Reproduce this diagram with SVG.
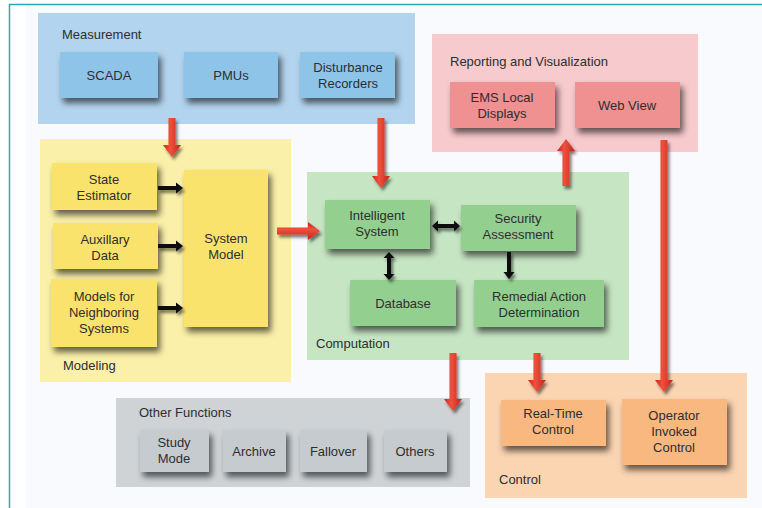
<svg xmlns="http://www.w3.org/2000/svg" width="762" height="508" viewBox="0 0 762 508">
<defs>
<style>
text{font-family:"Liberation Sans",Arial,sans-serif;font-size:13px;fill:#2e2e2e}
.c{text-anchor:middle}
.box{filter:url(#sh)}
.blue{fill:#8fc4e9}
.pink{fill:#ef9091}
.yel{fill:#f9e36c}
.grn{fill:#93cf8e}
.gry{fill:#c6cbcf}
.org{fill:#f8b87f}
.red{fill:url(#rg);filter:url(#ash)}
.redh{fill:url(#rgh);filter:url(#ash)}
.blk{fill:#111;filter:url(#ash)}
</style>
<filter id="sh" x="-20%" y="-20%" width="150%" height="160%">
<feDropShadow dx="3" dy="5" stdDeviation="3" flood-color="#000" flood-opacity="0.6"/>
</filter>
<filter id="ash" x="-50%" y="-50%" width="200%" height="200%">
<feDropShadow dx="2" dy="3" stdDeviation="1.8" flood-color="#000" flood-opacity="0.5"/>
</filter>
<linearGradient id="rg" x1="0" y1="0" x2="1" y2="0">
<stop offset="0" stop-color="#c8261a"/>
<stop offset="0.4" stop-color="#f0513c"/>
<stop offset="1" stop-color="#c02418"/>
</linearGradient>
<linearGradient id="rgh" x1="0" y1="0" x2="0" y2="1">
<stop offset="0" stop-color="#c8261a"/>
<stop offset="0.4" stop-color="#f0513c"/>
<stop offset="1" stop-color="#c02418"/>
</linearGradient>
</defs>

<rect x="0" y="0" width="762" height="508" fill="#ffffff"/>
<rect x="26" y="5" width="736" height="503" fill="#f9fafd"/>
<line x1="9.5" y1="4" x2="9.5" y2="508" stroke="#2aa7b4" stroke-width="1.5"/>
<line x1="9" y1="4.5" x2="762" y2="4.5" stroke="#2aa7b4" stroke-width="1.5"/>

<!-- panels -->
<g id="measurement-panel">
<rect x="38" y="13" width="377" height="111" fill="#b3d4ee"/>
<text x="62" y="39">Measurement</text>
</g>
<g id="reporting-panel">
<rect x="432" y="34" width="266" height="118" fill="#f7cacd"/>
<text x="450" y="66">Reporting and Visualization</text>
</g>
<g id="modeling-panel">
<rect x="40" y="139" width="251" height="243" fill="#fbf0a9"/>
<text x="63" y="370">Modeling</text>
</g>
<g id="computation-panel">
<rect x="307" y="172" width="322" height="188" fill="#c6e5c3"/>
<text x="316" y="348">Computation</text>
</g>
<g id="other-panel">
<rect x="116" y="398" width="354" height="89" fill="#cfd3d6"/>
<text x="139" y="417">Other Functions</text>
</g>
<g id="control-panel">
<rect x="485" y="373" width="262" height="125" fill="#fbd4b1"/>
<text x="499" y="484">Control</text>
</g>

<!-- nodes -->
<g id="scada"><rect class="box blue" x="60" y="52" width="98" height="46"/><text class="c" x="109" y="80">SCADA</text></g>
<g id="pmus"><rect class="box blue" x="184" y="52" width="94" height="46"/><text class="c" x="231" y="80">PMUs</text></g>
<g id="disturbance"><rect class="box blue" x="300" y="52" width="95" height="46"/><text class="c" x="348" y="72">Disturbance</text><text class="c" x="348" y="88">Recorders</text></g>

<g id="ems"><rect class="box pink" x="450" y="82" width="105" height="46"/><text class="c" x="502" y="102">EMS Local</text><text class="c" x="502" y="118">Displays</text></g>
<g id="webview"><rect class="box pink" x="575" y="82" width="105" height="46"/><text class="c" x="627" y="110">Web View</text></g>

<g id="state"><rect class="box yel" x="52" y="163" width="105" height="47"/><text class="c" x="104" y="184">State</text><text class="c" x="104" y="200">Estimator</text></g>
<g id="aux"><rect class="box yel" x="53" y="223" width="105" height="46"/><text class="c" x="105" y="244">Auxillary</text><text class="c" x="105" y="260">Data</text></g>
<g id="models"><rect class="box yel" x="51" y="279" width="106" height="68"/><text class="c" x="104" y="301">Models for</text><text class="c" x="104" y="317">Neighboring</text><text class="c" x="104" y="333">Systems</text></g>
<g id="sysmodel"><rect class="box yel" x="184" y="170" width="84" height="157"/><text class="c" x="226" y="243">System</text><text class="c" x="226" y="259">Model</text></g>

<g id="intelligent"><rect class="box grn" x="325" y="200" width="105" height="49"/><text class="c" x="377" y="220">Intelligent</text><text class="c" x="377" y="236">System</text></g>
<g id="security"><rect class="box grn" x="461" y="205" width="115" height="46"/><text class="c" x="518" y="223">Security</text><text class="c" x="518" y="239">Assessment</text></g>
<g id="database"><rect class="box grn" x="350" y="280" width="106" height="46"/><text class="c" x="403" y="308">Database</text></g>
<g id="remedial"><rect class="box grn" x="474" y="280" width="130" height="47"/><text class="c" x="539" y="301">Remedial Action</text><text class="c" x="539" y="317">Determination</text></g>

<g id="study"><rect class="box gry" x="140" y="430" width="69" height="42"/><text class="c" x="174" y="447">Study</text><text class="c" x="174" y="463">Mode</text></g>
<g id="archive"><rect class="box gry" x="223" y="430" width="63" height="42"/><text class="c" x="254" y="456">Archive</text></g>
<g id="fallover"><rect class="box gry" x="300" y="430" width="67" height="42"/><text class="c" x="333" y="456">Fallover</text></g>
<g id="others"><rect class="box gry" x="384" y="430" width="63" height="42"/><text class="c" x="415" y="456">Others</text></g>

<g id="realtime"><rect class="box org" x="501" y="400" width="105" height="46"/><text class="c" x="553" y="418">Real-Time</text><text class="c" x="553" y="434">Control</text></g>
<g id="operator"><rect class="box org" x="622" y="399" width="105" height="66"/><text class="c" x="674" y="420">Operator</text><text class="c" x="674" y="436">Invoked</text><text class="c" x="674" y="452">Control</text></g>

<!-- connectors -->
<g id="connectors">
<polygon class="red" points="168.5,118 175.5,118 175.5,145 181,145 172,157 163,145 168.5,145"/>
<polygon class="red" points="377.5,118 384.5,118 384.5,176 390,176 381,188 372,176 377.5,176"/>
<polygon class="redh" points="277,227.5 277,234.5 308,234.5 308,240 320,231 308,222 308,227.5"/>
<polygon class="red" points="562.5,186 569.5,186 569.5,151 575,151 566,139 557,151 562.5,151"/>
<polygon class="red" points="660.5,140 667.5,140 667.5,380 673,380 664,392 655,380 660.5,380"/>
<polygon class="red" points="449.5,353 456.5,353 456.5,399 462,399 453,411 444,399 449.5,399"/>
<polygon class="red" points="533.5,353 540.5,353 540.5,380 546,380 537,392 528,380 533.5,380"/>

<polygon class="blk" points="158,186 176,186 176,182.5 183,188 176,193.5 176,190 158,190"/>
<polygon class="blk" points="158,244 176,244 176,240.5 183,246 176,251.5 176,248 158,248"/>
<polygon class="blk" points="158,306 176,306 176,302.5 183,308 176,313.5 176,310 158,310"/>
<polygon class="blk" points="432,226 438,220.5 438,224 454,224 454,220.5 460,226 454,231.5 454,228 438,228 438,231.5"/>
<polygon class="blk" points="389,252 394.5,258 391,258 391,274 394.5,274 389,280 383.5,274 387,274 387,258 383.5,258"/>
<polygon class="blk" points="507,252 511,252 511,272 514.5,272 509,279 503.5,272 507,272"/>
</g>
</svg>
